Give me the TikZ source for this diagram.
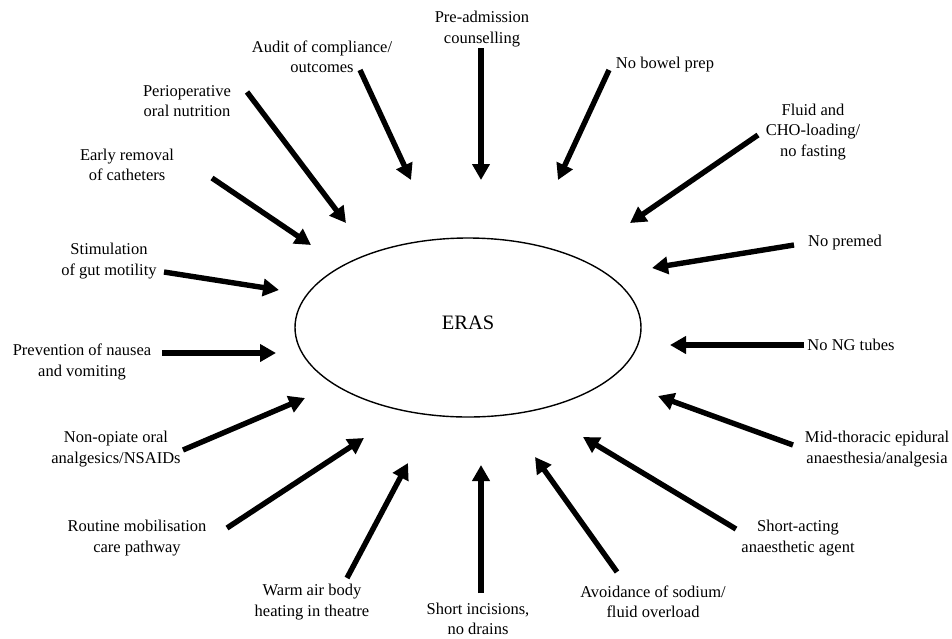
\documentclass[tikz,border=0pt]{standalone}
\usepackage{fontspec}
\setmainfont{Liberation Serif}
\usetikzlibrary{arrows.meta,shapes.geometric}
\begin{document}
\begin{tikzpicture}[x=1pt,y=-1pt,
  lbl/.style={align=center,inner sep=0pt,font=\fontsize{16.5}{20.5}\selectfont},
  arr/.style={line width=5.4pt,-{Triangle[length=16pt,width=17pt]}}]
\useasboundingbox (0,0) rectangle (952,638);
\node[draw,ellipse,line width=1.4pt,minimum width=346pt,minimum height=179pt,inner sep=0pt] (eras) at (468,327.5) {};
\node[inner sep=0pt,font=\fontsize{20.5}{24}\selectfont] (erasl) at (468,323) {ERAS};

\node[lbl] (t1) at (482,29) {Pre-admission\\counselling};
\node[lbl] (t2) at (322,57) {Audit of compliance/\\outcomes};
\node[lbl] (t3) at (187,101) {Perioperative\\oral nutrition};
\node[lbl] (t4) at (127,165) {Early removal\\of catheters};
\node[lbl] (t5) at (109,261) {Stimulation\\of gut motility};
\node[lbl] (t6) at (82,362) {Prevention of nausea\\and vomiting};
\node[lbl] (t7) at (116,449) {Non-opiate oral\\analgesics/NSAIDs};
\node[lbl] (t8) at (137,538) {Routine mobilisation\\care pathway};
\node[lbl] (t9) at (312,602) {Warm air body\\heating in theatre};
\node[lbl] (t10) at (478,619) {Short incisions,\\no drains};
\node[lbl] (t11) at (653,602) {Avoidance of sodium/\\fluid overload};
\node[lbl] (t12) at (798,538) {Short-acting\\anaesthetic agent};
\node[lbl] (t13) at (877,449) {Mid-thoracic epidural\\anaesthesia/analgesia};
\node[lbl] (t14) at (851,345) {No NG tubes};
\node[lbl] (t15) at (845,243) {No premed};
\node[lbl] (t16) at (813,132) {Fluid and\\CHO-loading/\\no fasting};
\node[lbl] (t17) at (665,65) {No bowel prep};

% arrow tails (s) and tips (e)
\coordinate (s1) at (481,48);  \coordinate (e1) at (481,180);
\coordinate (s2) at (360,70);  \coordinate (e2) at (411,180);
\coordinate (s3) at (247,92);  \coordinate (e3) at (346,223);
\coordinate (s4) at (212,178); \coordinate (e4) at (311,245);
\coordinate (s5) at (164,272); \coordinate (e5) at (279,290);
\coordinate (s6) at (162,353); \coordinate (e6) at (276,353);
\coordinate (s7) at (183,450); \coordinate (e7) at (305,398);
\coordinate (s8) at (227,528); \coordinate (e8) at (364,438);
\coordinate (s9) at (347,578); \coordinate (e9) at (408,463);
\coordinate (s10) at (481,593); \coordinate (e10) at (481,465);
\coordinate (s11) at (617,572); \coordinate (e11) at (535,457);
\coordinate (s12) at (736,529); \coordinate (e12) at (583,437);
\coordinate (s13) at (793,445); \coordinate (e13) at (658,396);
\coordinate (s14) at (804,345); \coordinate (e14) at (670,345);
\coordinate (s15) at (794,245); \coordinate (e15) at (652,268);
\coordinate (s16) at (758,135); \coordinate (e16) at (630,223);
\coordinate (s17) at (609,70);  \coordinate (e17) at (558,180);

\foreach \i in {1,...,17} { \draw[arr] (s\i) -- (e\i); }
\end{tikzpicture}
\end{document}
